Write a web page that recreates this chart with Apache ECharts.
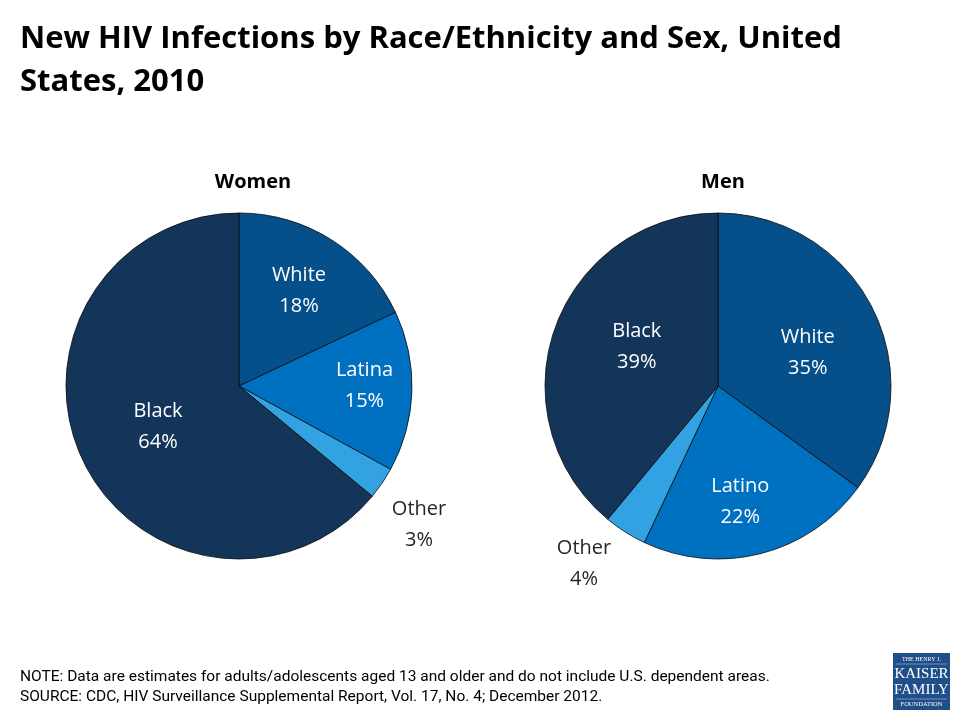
<!DOCTYPE html>
<html>
<head>
<meta charset="utf-8">
<script src="https://cdn.jsdelivr.net/npm/echarts@6/dist/echarts.min.js"></script>
<style>
html,body{margin:0;padding:0;background:#fff;}
#c{width:960px;height:720px;}
</style>
</head>
<body>
<div id="c"></div>
<script>
const categoriesWomen = ['White', 'Latina', 'Other', 'Black'];
const valuesWomen = [18, 15, 3, 64];
const categoriesMen = ['White', 'Latino', 'Other', 'Black'];
const valuesMen = [35, 22, 4, 39];
const sliceColors = ['#05508a', '#0070c0', '#33a2e2', '#14355a'];
const offsetsWomen = [[12, -20], [36, -3], [106, 88], [0, 3]];
const offsetsMen = [[10, 7], [0, 29], [-86, 102], [3, -9]];

const FONT = '"Open Sans", "Noto Sans", sans-serif';

function buildData(cats, vals, offs) {
  return cats.map((c, i) => ({
    name: c,
    value: vals[i],
    itemStyle: { color: sliceColors[i] },
    label: {
      offset: offs[i],
      color: c === 'Other' ? '#262626' : '#ffffff'
    }
  }));
}

const pieBase = {
  type: 'pie',
  radius: 173,
  startAngle: 90,
  clockwise: true,
  animation: false,
  silent: true,
  itemStyle: { borderColor: '#0a0a0a', borderWidth: 0.8 },
  label: {
    show: true,
    position: 'inside',
    formatter: '{b}\n{c}%',
    fontFamily: FONT,
    fontSize: 20,
    lineHeight: 31,
    align: 'center'
  },
  labelLine: { show: false }
};

const chart = echarts.init(document.getElementById('c'));
chart.setOption({
  backgroundColor: '#ffffff',
  title: [
    {
      text: 'New HIV Infections by Race/Ethnicity and Sex, United\nStates, 2010',
      left: 15, top: 13,
      textStyle: { fontFamily: FONT, fontWeight: 'bold', fontSize: 31, lineHeight: 43, color: '#000' }
    },
    {
      text: 'Women', left: 248, top: 167, textAlign: 'center',
      textStyle: { fontFamily: FONT, fontWeight: 'bold', fontSize: 20, color: '#000' }
    },
    {
      text: 'Men', left: 718, top: 167, textAlign: 'center',
      textStyle: { fontFamily: FONT, fontWeight: 'bold', fontSize: 20, color: '#000' }
    }
  ],
  series: [
    Object.assign({}, pieBase, {
      center: [239, 386],
      data: buildData(categoriesWomen, valuesWomen, offsetsWomen)
    }),
    Object.assign({}, pieBase, {
      center: [718, 386],
      data: buildData(categoriesMen, valuesMen, offsetsMen)
    })
  ],
  graphic: [
    {
      type: 'text', left: 20, top: 667,
      style: {
        text: 'NOTE: Data are estimates for adults/adolescents aged 13 and older and do not include U.S. dependent areas.\nSOURCE: CDC, HIV Surveillance Supplemental Report, Vol. 17, No. 4; December 2012.',
        font: '15.5px Roboto, "Noto Sans", sans-serif',
        lineHeight: 20, fill: '#000'
      }
    },
    {
      type: 'group', left: 893, top: 653,
      children: [
        { type: 'rect', shape: { x: 0, y: 0, width: 57, height: 57 }, style: { fill: '#1f4e89' } },
        { type: 'text', style: { x: 28.5, y: 6, text: 'THE HENRY J.', font: '6px "Liberation Serif", serif', fill: '#fff', align: 'center', verticalAlign: 'middle' } },
        { type: 'line', shape: { x1: 3, y1: 11, x2: 54, y2: 11 }, style: { stroke: '#c9d4e6', lineWidth: 0.5 } },
        { type: 'text', style: { x: 28.5, y: 21, text: 'KAISER', font: '15px "Liberation Serif", serif', fill: '#fff', align: 'center', verticalAlign: 'middle' } },
        { type: 'text', style: { x: 28.5, y: 37, text: 'FAMILY', font: '15px "Liberation Serif", serif', fill: '#fff', align: 'center', verticalAlign: 'middle' } },
        { type: 'line', shape: { x1: 3, y1: 46, x2: 54, y2: 46 }, style: { stroke: '#c9d4e6', lineWidth: 0.5 } },
        { type: 'text', style: { x: 28.5, y: 51, text: 'FOUNDATION', font: '6.5px "Liberation Serif", serif', fill: '#fff', align: 'center', verticalAlign: 'middle' } }
      ]
    }
  ]
});
</script>
</body>
</html>
